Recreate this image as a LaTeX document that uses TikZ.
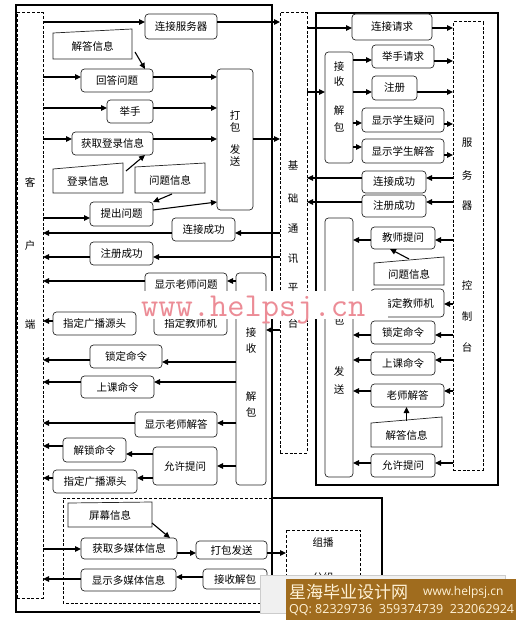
\documentclass[tikz,border=0pt]{standalone}
\usepackage{fontspec}
\setmainfont{Noto Sans CJK SC}
\newfontfamily\bnfont{Open Sans}
\usetikzlibrary{arrows.meta,calc}
\definecolor{wmpink}{RGB}{236,140,150}
\definecolor{bnbrown}{RGB}{160,108,30}
\definecolor{bncream}{RGB}{255,242,214}
\newcommand\fs{\fontsize{10.5}{12}\selectfont}
\newcommand\bx[7][]{\node[box,#1,minimum width={(#5)-(#3)},minimum height={(#6)-(#4)}] (#2) at ({((#3)+(#5))/2},{((#4)+(#6))/2}) {#7};}
\newcommand\dc[7]{\node[docn,minimum width={(#4)-(#2)},minimum height={(#6)-(#3)}] (#1) at ({((#2)+(#4))/2},{((#3)+(#6))/2}) {#7};\draw[docline] (#2,#3) -- (#4,#5) -- (#4,#6) -- (#2,#6) -- cycle;}
\newcommand\ch[4]{\node[lbl] (#1) at (#2,#3) {#4};}
\newcommand\harr[3]{\draw[arr] (#1 |- 0,#3) -- (#2 |- 0,#3);}
\begin{document}
\begin{tikzpicture}[x=1pt,y=-1pt,
 box/.style={draw=black!85,line width=0.7pt,rounded corners=3.5pt,fill=white,inner sep=0pt,outer sep=0pt,font=\fs},
 docn/.style={inner sep=0pt,outer sep=0pt,font=\fs},
 docline/.style={draw=black!85,line width=0.7pt},
 lbl/.style={inner sep=0pt,font=\fs},
 dbox/.style={draw=black,line width=1pt,dash pattern=on 3pt off 1.8pt,inner sep=0pt,outer sep=0pt},
 arr/.style={line width=1.1pt,-{Triangle[length=6pt,width=5.5pt]}},
 frame/.style={draw=black,line width=1.1pt}]
\useasboundingbox (0,0) rectangle (516,620);
\fill[white] (0,0) rectangle (516,620);
% frames
\draw[frame] (16,5) rectangle (272,612);
\draw[frame] (316,13) rectangle (498,485);
\node[dbox,minimum width=26,minimum height=585] (khd) at (30,305.5) {};
\node[dbox,minimum width=27,minimum height=440] (jctx) at (293.5,233) {};
\node[dbox,minimum width=30,minimum height=448] (fwq) at (468,246) {};
\node[dbox,minimum width=74,minimum height=82] (zb) at (323,571) {};
\draw[dbox] (272,498) -- (63,498) -- (63,603) -- (262,603);
\draw[frame] (272,498) -- (382,498) -- (382,578);
% side labels
\ch{k1}{30}{182}{客}\ch{k2}{30}{246}{户}\ch{k3}{30}{325}{端}
\ch{p1}{293}{165}{基}\ch{p2}{293}{198}{础}\ch{p3}{293}{229}{通}
\ch{p4}{293}{259}{讯}\ch{p5}{293}{288}{平}\ch{p6}{293}{323}{台}
\ch{s1}{467}{143}{服}\ch{s2}{467}{175}{务}\ch{s3}{467}{206}{器}
\ch{s4}{467}{285}{控}\ch{s5}{467}{317}{制}\ch{s6}{467}{347}{台}
\ch{zb1}{323}{543}{组播}\ch{zb2}{323}{578}{分组}
% client boxes
\bx{ljfwq}{145}{14}{217}{39}{连接服务器}
\dc{jdxx1}{53}{33}{132}{29}{59}{解答信息}
\bx{hdwt}{81}{69}{153}{92}{回答问题}
\bx{dbfs1}{217}{69}{253}{210}{}
\ch{t1a}{235}{115}{打}\ch{t1b}{235}{127}{包}\ch{t1c}{235}{150}{发}\ch{t1d}{235}{162}{送}
\bx{js}{107}{100}{153}{123}{举手}
\bx{hqdl}{72}{132}{153}{155}{获取登录信息}
\dc{dlxx}{53}{169}{123}{163}{193}{登录信息}
\dc{wtxx1}{135}{167}{205}{163}{193}{问题信息}
\bx{tcwt}{90}{202}{153}{226}{提出问题}
\bx{ljcg1}{172}{218}{235}{241}{连接成功}
\bx{zccg1}{90}{242}{153}{265}{注册成功}
\bx{xslswt}{145}{273}{227}{296}{显示老师问题}
\bx{jsjb1}{236}{273}{266}{485}{}
\ch{t2a}{251}{333}{接}\ch{t2b}{251}{349}{收}\ch{t2c}{251}{397}{解}\ch{t2d}{251}{412}{包}
\bx{zdjsj1}{154}{312}{227}{335}{指定教师机}
\bx{zdgb1}{53}{312}{136}{335}{指定广播源头}
\bx{sdml1}{90}{345}{162}{368}{锁定命令}
\bx{skml1}{81}{376}{154}{398}{上课命令}
\bx{xsljd}{135}{412}{217}{437}{显示老师解答}
\bx{jsml}{63}{438}{126}{462}{解锁命令}
\bx{yxtw1}{153}{447}{217}{485}{允许提问}
\bx{zdgb2}{53}{470}{137}{493}{指定广播源头}
% multimedia
\dc{pmxx}{68}{503}{152}{502}{527}{屏幕信息}
\bx{hqdmt}{81}{538}{177}{559}{获取多媒体信息}
\bx{dbfs2}{196}{541}{267}{559}{打包发送}
\bx{xsdmt}{81}{569}{176}{591}{显示多媒体信息}
\bx{jsjb2}{203}{569}{267}{589}{接收解包}
% server boxes
\bx{ljqq}{352}{14}{432}{40}{连接请求}
\bx{jsjb3}{325}{52}{353}{163}{}
\ch{t3a}{339}{67}{接}\ch{t3b}{339}{82}{收}\ch{t3c}{339}{111}{解}\ch{t3d}{339}{127}{包}
\bx{jsqq}{372}{45}{434}{68}{举手请求}
\bx{zc}{372}{76}{417}{100}{注册}
\bx{xsxsyw}{362}{108}{444}{132}{显示学生疑问}
\bx{xsxsjd}{362}{139}{444}{163}{显示学生解答}
\bx{ljcg2}{362}{171}{426}{193}{连接成功}
\bx{zccg2}{362}{195}{426}{217}{注册成功}
\bx{dbfs3}{325}{218}{353}{477}{}
\ch{t4b}{339}{320}{包}\ch{t4c}{339}{372}{发}\ch{t4d}{339}{390}{送}
\bx{jstw}{371}{227}{435}{249}{教师提问}
\dc{wtxx2}{374}{263}{444}{257}{285}{问题信息}
\bx{zdjsj2}{371}{289}{444}{317}{指定教师机}
\bx{sdml2}{371}{321}{435}{344}{锁定命令}
\bx{skml2}{371}{352}{435}{375}{上课命令}
\bx{lsjd}{371}{384}{444}{407}{老师解答}
\dc{jdxx2}{371}{423}{442}{417}{447}{解答信息}
\bx{yxtw2}{371}{454}{435}{477}{允许提问}
% client arrows
\harr{khd.east}{ljfwq.west}{22}
\harr{ljfwq.east}{jctx.west}{22}
\draw[arr] ($(jdxx1.south east)+(3,-7)$) -- ($(hdwt.north east)+(-8,0)$);
\harr{khd.east}{hdwt.west}{77}
\harr{hdwt.east}{dbfs1.west}{77}
\harr{khd.east}{js.west}{108}
\harr{js.east}{dbfs1.west}{108}
\harr{khd.east}{hqdl.west}{139}
\harr{hqdl.east}{dbfs1.west}{139}
\harr{dbfs1.east}{jctx.west}{139}
\draw[arr] ($(dlxx.north east)+(3,2)$) -- ($(hqdl.south west)+(73,0)$);
\draw[arr] ($(wtxx1.south)+(2,1)$) -- (tcwt.north east);
\harr{khd.east}{tcwt.west}{218}
\draw[arr] ($(tcwt.east)+(0,-4)$) -- ($(dbfs1.south west)+(0,-8)$);
\harr{jctx.west}{ljcg1.east}{233}
\harr{ljcg1.west}{khd.east}{233}
\harr{jctx.west}{zccg1.east}{257}
\harr{zccg1.west}{khd.east}{257}
\harr{jsjb1.west}{xslswt.east}{281}
\harr{xslswt.west}{khd.east}{281}
\harr{zdgb1.west}{khd.east}{321}
\harr{jctx.west}{jsjb1.east}{330}
\harr{jsjb1.west}{sdml1.east}{362}
\harr{sdml1.west}{khd.east}{360}
\harr{jsjb1.west}{skml1.east}{382}
\harr{skml1.west}{khd.east}{382}
\harr{jsjb1.west}{xsljd.east}{423}
\harr{xsljd.west}{khd.east}{423}
\harr{jsjb1.west}{yxtw1.east}{466}
\harr{yxtw1.west}{jsml.east}{454}
\harr{jsml.west}{khd.east}{446}
\harr{yxtw1.west}{zdgb2.east}{478}
\harr{zdgb2.west}{khd.east}{478}
% multimedia arrows
\draw[arr] ($(pmxx.south east)+(0,-4)$) -- ($(hqdmt.north west)+(89,0)$);
\harr{khd.east}{hqdmt.west}{549}
\harr{hqdmt.east}{dbfs2.west}{553}
\harr{dbfs2.east}{zb.west}{553}
\harr{jsjb2.west}{xsdmt.east}{577}
\harr{xsdmt.west}{khd.east}{579}
% server arrows
\harr{jctx.east}{ljqq.west}{28}
\harr{ljqq.east}{fwq.west}{28}
\harr{jctx.east}{jsjb3.west}{92}
\harr{jsjb3.east}{jsqq.west}{60}
\harr{jsqq.east}{fwq.west}{61}
\harr{jsjb3.east}{zc.west}{92}
\harr{zc.east}{fwq.west}{92}
\harr{jsjb3.east}{xsxsyw.west}{123}
\harr{xsxsyw.east}{fwq.west}{124}
\harr{jsjb3.east}{xsxsjd.west}{147}
\harr{xsxsjd.east}{fwq.west}{155}
\harr{fwq.west}{ljcg2.east}{178}
\harr{ljcg2.west}{jctx.east}{178}
\harr{fwq.west}{zccg2.east}{202}
\harr{zccg2.west}{jctx.east}{202}
\harr{fwq.west}{jstw.east}{240}
\harr{jstw.west}{dbfs3.east}{240}
\draw[arr] ($(wtxx2.north)+(0,-4)$) -- ($(jstw.south west)+(19,0)$);
\harr{fwq.west}{zdjsj2.east}{304}
\harr{fwq.west}{sdml2.east}{335}
\harr{sdml2.west}{dbfs3.east}{335}
\harr{fwq.west}{skml2.east}{360}
\harr{skml2.west}{dbfs3.east}{360}
\harr{fwq.west}{lsjd.east}{391}
\harr{lsjd.west}{dbfs3.east}{391}
\draw[arr] ($(jdxx2.north)+(0,-2)$) -- (jdxx2.north |- lsjd.south);
\harr{fwq.west}{yxtw2.east}{463}
\harr{yxtw2.west}{dbfs3.east}{463}
% watermark
\fill[white] (140,291) rectangle (388,319);
\node[inner sep=0pt,anchor=base west,text=wmpink,font=\ttfamily\fontsize{33.5}{34}\selectfont] (wm) at (141,316) {www.helpsj.cn};
% banner
\filldraw[fill=gray!12,draw=gray!40] (260,575) rectangle (505,613);
\fill[bnbrown] (286,579) rectangle (516,620);
\node[inner sep=0pt,anchor=base west,text=bncream,font=\fontsize{17}{17}\selectfont] (bn1) at (289,598) {星海毕业设计网};
\node[inner sep=0pt,anchor=base west,text=bncream,font=\bnfont\fontsize{12}{12}\selectfont] (bn2) at (423,595) {www.helpsj.cn};
\node[inner sep=0pt,anchor=base west,text=bncream,font=\bnfont\fontsize{12.5}{12.5}\selectfont] (bn3) at (289,613) {QQ: 82329736\ \ 359374739\ \ 232062924};
\end{tikzpicture}
\end{document}
